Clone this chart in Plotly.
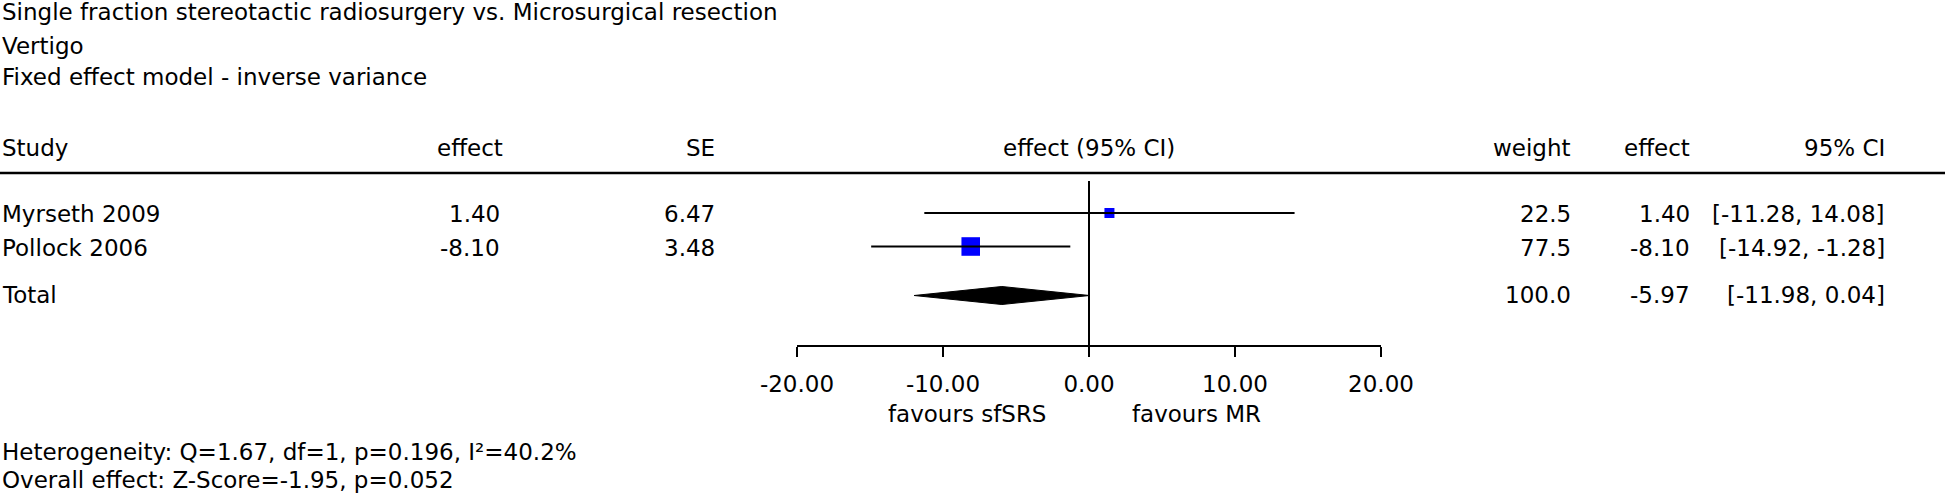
import plotly.graph_objects as go

# ---------------- data ----------------
title_lines = [
    "Single fraction stereotactic radiosurgery vs. Microsurgical resection",
    "Vertigo",
    "Fixed effect model - inverse variance",
]
studies = ["Myrseth 2009", "Pollock 2006"]
effects = [1.40, -8.10]
ses = [6.47, 3.48]
ci_low = [-11.28, -14.92]
ci_high = [14.08, -1.28]
weights = [22.5, 77.5]

total_label = "Total"
total_weight = 100.0
total_effect = -5.97
total_low = -11.98
total_high = 0.04

tick_values = [-20, -10, 0, 10, 20]
tick_labels = [f"{v:.2f}" for v in tick_values]
favours_left = "favours sfSRS"
favours_right = "favours MR"
heterogeneity = "Heterogeneity: Q=1.67, df=1, p=0.196, I²=40.2%"
overall = "Overall effect: Z-Score=-1.95, p=0.052"

# ---------------- layout constants ----------------
W, H = 1945, 496
FONT = "DejaVu Sans"
FS = 23
AXIS_Y = 345          # pixel row of the x axis line
X_LEFT, X_RIGHT = 797, 1381   # pixel columns of -20 and 20

row_mark_y = [213, 246.5]
row_text_y = [214, 248]
total_mark_y = 295.5
total_text_y = 295
diamond_half = 9


def py(p):
    return 1 - p / H


def px(p):
    return p / W


fig = go.Figure()

# study squares (drawn first so CI lines pass over them)
fig.add_trace(go.Scatter(
    x=effects, y=row_mark_y, mode="markers",
    marker=dict(symbol="square", color="#0000FF", opacity=1,
                size=[2.11 * (w ** 0.5) for w in weights],
                line=dict(width=0)),
    hoverinfo="skip", showlegend=False,
))

# CI lines
ci_x, ci_y = [], []
for lo, hi, yy in zip(ci_low, ci_high, row_mark_y):
    ci_x += [lo, hi, None]
    ci_y += [yy, yy, None]
fig.add_trace(go.Scatter(
    x=ci_x, y=ci_y, mode="lines",
    line=dict(color="black", width=2),
    hoverinfo="skip", showlegend=False,
))

# pooled-effect diamond
fig.add_trace(go.Scatter(
    x=[total_low, total_effect, total_high, total_effect, total_low],
    y=[total_mark_y, total_mark_y - diamond_half, total_mark_y,
       total_mark_y + diamond_half, total_mark_y],
    mode="lines", fill="toself", fillcolor="black",
    line=dict(color="black", width=1),
    hoverinfo="skip", showlegend=False,
))

# line of no effect
fig.add_trace(go.Scatter(
    x=[tick_values[2], tick_values[2]], y=[181, AXIS_Y], mode="lines",
    line=dict(color="black", width=2),
    hoverinfo="skip", showlegend=False,
))

annotations = []


def txt(s, x, y, anchor="left"):
    annotations.append(dict(
        text=s, x=px(x), y=py(y), xref="paper", yref="paper",
        xanchor=anchor, yanchor="middle", showarrow=False,
        font=dict(family=FONT, size=FS, color="black"),
    ))


# title block
for i, t in enumerate(title_lines):
    txt(t, 0, [12, 46, 77][i])

# header
txt("Study", 0, 148)
txt("effect", 505, 148, "right")
txt("SE", 717, 148, "right")
txt("effect (95% CI)", 1089, 148, "center")
txt("weight", 1573, 148, "right")
txt("effect", 1692, 148, "right")
txt("95% CI", 1887, 148, "right")

# study rows
for i in range(len(studies)):
    y = row_text_y[i]
    txt(studies[i], 0, y)
    txt(f"{effects[i]:.2f}", 502, y, "right")
    txt(f"{ses[i]:.2f}", 717, y, "right")
    txt(f"{weights[i]:.1f}", 1573, y, "right")
    txt(f"{effects[i]:.2f}", 1692, y, "right")
    txt(f"[{ci_low[i]:.2f}, {ci_high[i]:.2f}]", 1887, y, "right")

# total row
txt(total_label, 0, total_text_y)
txt(f"{total_weight:.1f}", 1573, total_text_y, "right")
txt(f"{total_effect:.2f}", 1692, total_text_y, "right")
txt(f"[{total_low:.2f}, {total_high:.2f}]", 1887, total_text_y, "right")

# favours labels
txt(favours_left, 1048, 414, "right")
txt(favours_right, 1130, 414, "left")

# footer
txt(heterogeneity, 0, 452)
txt(overall, 0, 480)

fig.update_layout(
    width=W, height=H,
    margin=dict(l=0, r=0, t=0, b=0, pad=0, autoexpand=False),
    paper_bgcolor="white", plot_bgcolor="white",
    showlegend=False,
    annotations=annotations,
    shapes=[dict(type="line", xref="paper", yref="paper",
                 x0=0, x1=1, y0=py(173), y1=py(173),
                 line=dict(color="black", width=2.5))],
    xaxis=dict(
        domain=[px(X_LEFT), px(X_RIGHT)], range=[tick_values[0], tick_values[-1]],
        tickmode="array", tickvals=tick_values, ticktext=tick_labels,
        ticks="outside", ticklen=10, tickwidth=2, tickcolor="black",
        showline=True, linecolor="black", linewidth=2,
        showgrid=False, zeroline=False, fixedrange=True, automargin=False,
        tickfont=dict(family=FONT, size=FS, color="black"),
        ticklabelstandoff=7,
    ),
    yaxis=dict(
        domain=[py(AXIS_Y), 1], range=[AXIS_Y, 0], automargin=False,
        visible=False, showgrid=False, zeroline=False, fixedrange=True,
    ),
)

post = (
    "document.body.style.margin='0';"
    "document.body.style.padding='0';"
    "document.documentElement.style.overflow='hidden';"
    "document.body.style.overflow='hidden';"
)

fig.write_html("out.html", post_script=post,
               config={"displayModeBar": False, "staticPlot": True})
